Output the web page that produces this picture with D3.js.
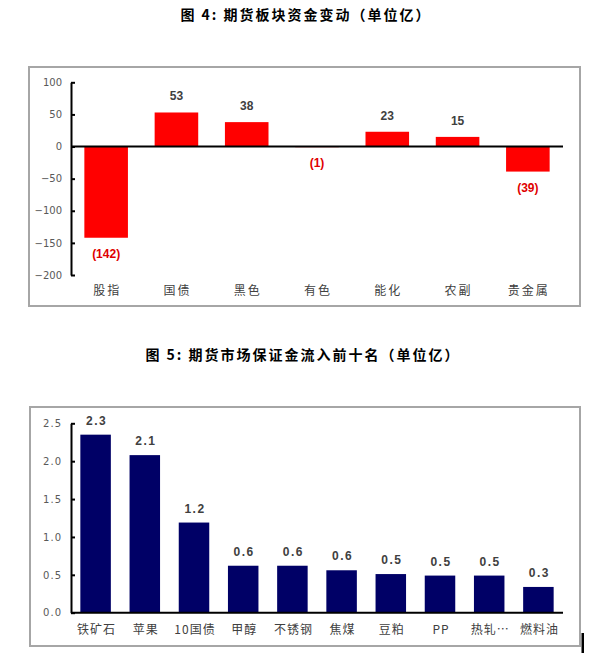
<!DOCTYPE html>
<html><head><meta charset="utf-8">
<script src="https://cdn.jsdelivr.net/npm/d3@7"></script>
<style>body{margin:0;background:#fff;}svg{display:block;}</style>
</head><body>
<script>
// Chart 1 data
const title1 = "图 4: 期货板块资金变动（单位亿）";
const sectors = ["股指","国债","黑色","有色","能化","农副","贵金属"];
const sectorFlow = [-142, 53, 38, -1, 23, 15, -39];
const ticks1 = [-200, -150, -100, -50, 0, 50, 100];

// Chart 2 data
const title2 = "图 5: 期货市场保证金流入前十名（单位亿）";
const products = ["铁矿石","苹果","10国债","甲醇","不锈钢","焦煤","豆粕","PP","热轧…","燃料油"];
const inflow = [2.35, 2.08, 1.19, 0.62, 0.62, 0.56, 0.51, 0.49, 0.49, 0.34];
const inflowLabels = ["2.3","2.1","1.2","0.6","0.6","0.6","0.5","0.5","0.5","0.3"];
const ticks2 = [0, 0.5, 1.0, 1.5, 2.0, 2.5];

const W = 616, H = 659;
const svg = d3.select("body").append("svg").attr("width", W).attr("height", H);
const cjk = "'Noto Sans CJK SC', sans-serif";

// ---------- Chart 1 ----------
svg.append("text").attr("x", 306).attr("y", 20).attr("text-anchor", "middle")
  .style("font-family", cjk).style("font-weight", "bold").style("font-size", "14px")
  .style("letter-spacing", "2px").attr("fill", "#000").text(title1);

svg.append("rect").attr("x", 29).attr("y", 67).attr("width", 551).attr("height", 239)
  .attr("fill", "none").attr("stroke", "#a6a6a6").attr("stroke-width", 2);

const x1 = d3.scaleBand().domain(sectors).range([71, 563]).paddingInner(0.38).paddingOuter(0.19);
const y1 = d3.scaleLinear().domain([-200, 100]).range([275, 82.3]);

const g1 = svg.append("g");
g1.selectAll("rect.bar").data(sectors).join("rect").attr("class", "bar")
  .attr("x", d => x1(d)).attr("width", x1.bandwidth())
  .attr("y", (d, i) => y1(Math.max(0, sectorFlow[i])))
  .attr("height", (d, i) => Math.abs(y1(sectorFlow[i]) - y1(0)))
  .attr("fill", "#ff0000");

const ax1 = svg.append("g").attr("transform", "translate(71,0)")
  .call(d3.axisLeft(y1).tickValues(ticks1).tickSize(-4).tickSizeOuter(0).tickPadding(9).tickFormat(d3.format("d")));
ax1.select(".domain").attr("stroke", "#000").attr("stroke-width", 2);
ax1.selectAll(".tick line").attr("stroke", "#000").attr("stroke-width", 2);
ax1.selectAll(".tick text").style("font-family", "'DejaVu Sans', sans-serif").style("font-size", "10px").attr("fill", "#595959");

svg.append("line").attr("x1", 71).attr("x2", 563).attr("y1", y1(0)).attr("y2", y1(0))
  .attr("stroke", "#000").attr("stroke-width", 2);

g1.selectAll("text.val").data(sectors).join("text").attr("class", "val")
  .attr("x", d => x1(d) + x1.bandwidth() / 2)
  .attr("y", (d, i) => sectorFlow[i] >= 0 ? y1(sectorFlow[i]) - 12 : y1(sectorFlow[i]) + 20)
  .attr("text-anchor", "middle")
  .style("font-family", "'Liberation Sans', Arial, sans-serif").style("font-weight", "bold").style("font-size", "12px")
  .attr("fill", (d, i) => sectorFlow[i] >= 0 ? "#404040" : "#e00000")
  .text((d, i) => sectorFlow[i] >= 0 ? String(sectorFlow[i]) : "(" + Math.abs(sectorFlow[i]) + ")");

g1.selectAll("text.cat").data(sectors).join("text").attr("class", "cat")
  .attr("x", d => x1(d) + x1.bandwidth() / 2 + 1).attr("y", 295)
  .attr("text-anchor", "middle").style("font-family", cjk).style("font-size", "12px")
  .style("letter-spacing", "2px").attr("fill", "#404040").text(d => d);

// ---------- Chart 2 ----------
svg.append("text").attr("x", 303).attr("y", 360).attr("text-anchor", "middle")
  .style("font-family", cjk).style("font-weight", "bold").style("font-size", "14px")
  .style("letter-spacing", "2px").attr("fill", "#000").text(title2);

svg.append("rect").attr("x", 30).attr("y", 407).attr("width", 550).attr("height", 239)
  .attr("fill", "none").attr("stroke", "#a6a6a6").attr("stroke-width", 2);

const x2 = d3.scaleBand().domain(products).range([71, 563]).paddingInner(0.38).paddingOuter(0.19);
const y2 = d3.scaleLinear().domain([0, 2.5]).range([612.7, 423.3]);

const g2 = svg.append("g");
g2.selectAll("rect.bar").data(products).join("rect").attr("class", "bar")
  .attr("x", d => x2(d)).attr("width", x2.bandwidth())
  .attr("y", (d, i) => y2(inflow[i]))
  .attr("height", (d, i) => y2(0) - y2(inflow[i]))
  .attr("fill", "#000066");

const ax2 = svg.append("g").attr("transform", "translate(71,0)")
  .call(d3.axisLeft(y2).tickValues(ticks2).tickSize(-4).tickSizeOuter(0).tickPadding(9).tickFormat(d3.format(".1f")));
ax2.select(".domain").attr("stroke", "#000").attr("stroke-width", 2);
ax2.selectAll(".tick line").attr("stroke", "#000").attr("stroke-width", 2);
ax2.selectAll(".tick text").style("font-family", "'DejaVu Sans', sans-serif").style("font-size", "10px")
  .style("letter-spacing", "1px").attr("fill", "#595959");

svg.append("line").attr("x1", 71).attr("x2", 563).attr("y1", y2(0)).attr("y2", y2(0))
  .attr("stroke", "#000").attr("stroke-width", 2);

g2.selectAll("text.val").data(products).join("text").attr("class", "val")
  .attr("x", d => x2(d) + x2.bandwidth() / 2 + 1)
  .attr("y", (d, i) => y2(inflow[i]) - 10)
  .attr("text-anchor", "middle")
  .style("font-family", "'Liberation Sans', Arial, sans-serif").style("font-weight", "bold").style("font-size", "12px")
  .style("letter-spacing", "1.5px").attr("fill", "#404040")
  .text((d, i) => inflowLabels[i]);

g2.selectAll("text.cat").data(products).join("text").attr("class", "cat")
  .attr("x", d => x2(d) + x2.bandwidth() / 2 + 1).attr("y", 634)
  .attr("text-anchor", "middle").style("font-family", cjk).style("font-size", "12px")
  .style("letter-spacing", "1px").attr("fill", "#404040").text(d => d);

// crop artifact at lower right
svg.append("rect").attr("x", 581.5).attr("y", 633).attr("width", 2.5).attr("height", 20).attr("fill", "#000");
</script>
</body></html>
